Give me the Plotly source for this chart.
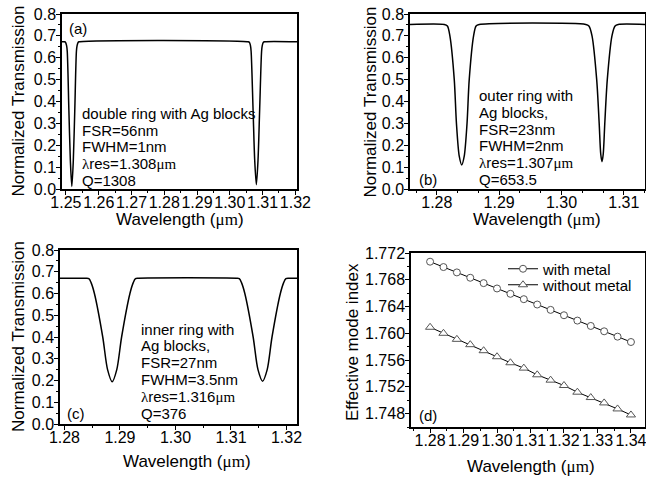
import plotly.graph_objects as go

W, H = 646, 477

# ---------------- data ----------------
# (a) double ring with Ag blocks
wl_a = [1.2488, 1.2496, 1.2499, 1.2502, 1.2504, 1.2509, 1.25135, 1.2518,
        1.25225, 1.2527, 1.2532, 1.2534, 1.2537, 1.2540,
        1.3056, 1.3060, 1.3063, 1.3065, 1.3071, 1.3076, 1.3081,
        1.3086, 1.3091, 1.3097, 1.3099, 1.3102, 1.3106, 1.3205]
tr_a = [0.673, 0.673, 0.670, 0.655, 0.630, 0.360, 0.130, 0.012,
        0.130, 0.360, 0.630, 0.655, 0.670, 0.673,
        0.673, 0.670, 0.655, 0.630, 0.360, 0.130, 0.020,
        0.130, 0.360, 0.630, 0.655, 0.670, 0.673, 0.673]

# (b) outer ring with Ag blocks
wl_b = [1.2757, 1.2812, 1.2817, 1.2821, 1.2828, 1.28315, 1.2836, 1.2840,
        1.2844, 1.28485, 1.2852, 1.2859, 1.2863, 1.2868,
        1.3039, 1.3044, 1.3049, 1.30565, 1.30605, 1.3063, 1.3065,
        1.3067, 1.30695, 1.30735, 1.3081, 1.3086, 1.3091, 1.3134]
tr_b = [0.752, 0.752, 0.745, 0.700, 0.500, 0.300, 0.150, 0.110,
        0.150, 0.300, 0.500, 0.700, 0.745, 0.752,
        0.752, 0.745, 0.700, 0.500, 0.300, 0.160, 0.125,
        0.160, 0.300, 0.500, 0.700, 0.745, 0.752, 0.752]

# (c) inner ring with Ag blocks
wl_c = [1.2792, 1.2839, 1.2844, 1.2848, 1.2854, 1.2869, 1.28777, 1.2886,
        1.28943, 1.2903, 1.2918, 1.2924, 1.2928, 1.2933,
        1.3110, 1.3115, 1.3119, 1.3125, 1.3140, 1.31487, 1.3157,
        1.31653, 1.3174, 1.3189, 1.3195, 1.3199, 1.3204, 1.3219]
tr_c = [0.670, 0.670, 0.668, 0.650, 0.600, 0.400, 0.250, 0.194,
        0.250, 0.400, 0.600, 0.650, 0.668, 0.670,
        0.670, 0.668, 0.650, 0.600, 0.400, 0.250, 0.197,
        0.250, 0.400, 0.600, 0.650, 0.668, 0.670, 0.670]

# (d) effective mode index
wl_d = [1.280, 1.284, 1.288, 1.292, 1.296, 1.300, 1.304, 1.308,
        1.312, 1.316, 1.320, 1.324, 1.328, 1.332, 1.336, 1.340]
n_with_metal = [1.7707, 1.7699, 1.7691, 1.7683, 1.7675, 1.7667, 1.7659, 1.7651,
                1.7643, 1.7635, 1.7627, 1.7619, 1.7611, 1.7603, 1.7595, 1.7587]
n_without_metal = [1.7609, 1.7600, 1.7591, 1.7583, 1.7574, 1.7565, 1.7556, 1.7548,
                   1.7538, 1.7530, 1.7522, 1.7512, 1.7504, 1.7496, 1.7487, 1.7478]

legend_names = ["with metal", "without metal"]

# ---------------- figure ----------------
def fx(p):
    return p / W


def fy(p):
    return 1 - p / H


FONT = "Liberation Sans, Arial, sans-serif"
UM = "<span style='font-family:Liberation Serif'>μm</span>"
LAM = "<span style='font-family:Liberation Serif'>λ</span>"

fig = go.Figure()
curve_line = dict(color="black", width=1.5, shape="spline", smoothing=0.8)
fig.add_trace(go.Scatter(x=wl_a, y=tr_a, mode="lines", line=curve_line,
                         xaxis="x", yaxis="y", showlegend=False))
fig.add_trace(go.Scatter(x=wl_b, y=tr_b, mode="lines", line=curve_line,
                         xaxis="x2", yaxis="y2", showlegend=False))
fig.add_trace(go.Scatter(x=wl_c, y=tr_c, mode="lines", line=curve_line,
                         xaxis="x3", yaxis="y3", showlegend=False))
fig.add_trace(go.Scatter(x=wl_d, y=n_with_metal, mode="lines+markers",
                         name=legend_names[0], legend="legend",
                         line=dict(color="black", width=1),
                         marker=dict(symbol="circle", size=7, color="white",
                                     line=dict(color="#555555", width=1)),
                         xaxis="x4", yaxis="y4"))
fig.add_trace(go.Scatter(x=wl_d, y=n_without_metal, mode="lines+markers",
                         name=legend_names[1], legend="legend2",
                         line=dict(color="black", width=1),
                         marker=dict(symbol="triangle-up", size=8, color="white",
                                     line=dict(color="#555555", width=1)),
                         xaxis="x4", yaxis="y4"))


def ax(xaxis=True, **kw):
    d = dict(showline=True, linecolor="black", linewidth=1.5, mirror=True,
             ticks="outside", ticklen=4, tickwidth=1.2, tickcolor="black",
             showgrid=False, zeroline=False, tickangle=0, automargin=False,
             ticklabelstandoff=-6 if xaxis else -3, ticklabeloverflow="allow",
             tickfont=dict(family=FONT, size=16, color="black"))
    minor_dtick = kw.pop("minor_dtick")
    d["minor"] = dict(ticks="outside", ticklen=2, tickwidth=1, tickcolor="black",
                      showgrid=False, dtick=minor_dtick)
    d.update(kw)
    return d


dom_a = dict(x=[fx(62), fx(297)], y=[fy(189), fy(14)])
dom_b = dict(x=[fx(410), fx(645)], y=[fy(189), fy(14)])
dom_c = dict(x=[fx(60), fx(297)], y=[fy(424), fy(250)])
dom_d = dict(x=[fx(411), fx(645)], y=[fy(427), fy(253)])

leg_common = dict(xanchor="left", yanchor="middle", bgcolor="rgba(0,0,0,0)",
                  font=dict(family=FONT, size=15, color="black"),
                  itemwidth=30, borderwidth=0)

fig.update_layout(
    template="none",
    width=W, height=H,
    margin=dict(l=0, r=0, t=0, b=0, autoexpand=False),
    paper_bgcolor="white", plot_bgcolor="white",
    font=dict(family=FONT, color="black"),
    xaxis=ax(domain=dom_a["x"], anchor="y", range=[1.2488, 1.3205], tick0=1.25,
             dtick=0.01, tickformat=".2f", minor_dtick=0.005),
    yaxis=ax(False, domain=dom_a["y"], anchor="x", range=[0, 0.8], tick0=0, dtick=0.1,
             tickformat=".1f", minor_dtick=0.05),
    xaxis2=ax(domain=dom_b["x"], anchor="y2", range=[1.2757, 1.3134], tick0=1.28,
              dtick=0.01, tickformat=".2f", minor_dtick=0.01 / 3),
    yaxis2=ax(False, domain=dom_b["y"], anchor="x2", range=[0, 0.8], tick0=0, dtick=0.1,
              tickformat=".1f", minor_dtick=0.05),
    xaxis3=ax(domain=dom_c["x"], anchor="y3", range=[1.2792, 1.3219], tick0=1.28,
              dtick=0.01, tickformat=".2f", minor_dtick=0.005),
    yaxis3=ax(False, domain=dom_c["y"], anchor="x3", range=[0, 0.8], tick0=0, dtick=0.1,
              tickformat=".1f", minor_dtick=0.05),
    xaxis4=ax(domain=dom_d["x"], anchor="y4", range=[1.2743, 1.3442], tick0=1.28,
              dtick=0.01, tickformat=".2f", minor_dtick=0.005),
    yaxis4=ax(False, domain=dom_d["y"], anchor="x4", range=[1.746, 1.772], tick0=1.748,
              dtick=0.004, tickformat=".3f", minor_dtick=0.002),
    showlegend=True,
    legend=dict(x=fx(503), y=fy(269), **leg_common),
    legend2=dict(x=fx(503), y=fy(285), **leg_common),
)

annots = []


def txt(x, y, s, size=15, xanchor="left", angle=0):
    annots.append(dict(x=fx(x), y=fy(y), xref="paper", yref="paper", text=s,
                       showarrow=False, xanchor=xanchor, yanchor="middle",
                       textangle=angle, font=dict(family=FONT, size=size, color="black")))


# axis titles
txt(18, 101.5, "Normalized Transmission", 17, "center", -90)
txt(370, 101.5, "Normalized Transmission", 17, "center", -90)
txt(18, 337, "Normalized Transmission", 17, "center", -90)
txt(352, 342, "Effective mode index", 17, "center", -90)
wl_title = "Wavelength (" + UM + ")"
txt(180, 219, wl_title, 17, "center")
txt(537, 219, wl_title, 17, "center")
txt(187, 461, wl_title, 17, "center")
txt(531, 466, wl_title, 17, "center")

# panel (a)
txt(67, 29, "(a)")
for yy, s in zip([114, 130.5, 147, 163.5, 180],
                 ["double ring with Ag blocks", "FSR=56nm", "FWHM=1nm",
                  LAM + "res=1.308" + UM, "Q=1308"]):
    txt(80, yy, s)
# panel (b)
txt(417, 179, "(b)")
for yy, s in zip([96, 112.6, 129.2, 145.8, 162.4, 179],
                 ["outer ring with", "Ag blocks,", "FSR=23nm", "FWHM=2nm",
                  LAM + "res=1.307" + UM, "Q=653.5"]):
    txt(477, yy, s)
# panel (c)
txt(65, 413, "(c)")
for yy, s in zip([329, 345.8, 362.6, 379.4, 396.2, 413],
                 ["inner ring with", "Ag blocks,", "FSR=27nm", "FWHM=3.5nm",
                  LAM + "res=1.316" + UM, "Q=376"]):
    txt(139, yy, s)
# panel (d)
txt(417, 415, "(d)")

fig.update_layout(annotations=annots)
fig.write_html("out.html",
               config={"displayModeBar": False},
               post_script="document.body.style.margin='0px';"
                           "document.body.style.overflow='hidden';")
